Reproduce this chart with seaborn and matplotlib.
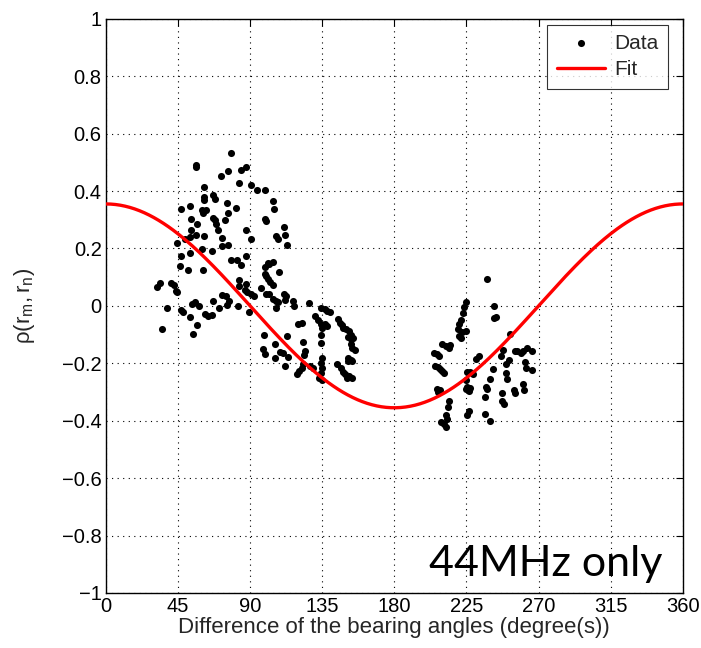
import numpy as np
import pandas as pd
import matplotlib
matplotlib.use('Agg')
import matplotlib.pyplot as plt
import seaborn as sns

# measured points: difference of bearing angles (deg) and correlation rho
angle_a = [78.1, 56.3, 56.3, 87.3, 84.4, 76.2, 71.6, 82.8, 90.4, 94.2, 99.2, 61.3, 61.3, 61.3,
           66.6, 68.0, 47.1, 52.3, 60.3, 62.4, 60.8, 75.3, 76.0, 81.4, 74.3, 66.6, 68.0, 68.5,
           53.4, 57.1, 70.2, 53.4, 49.2, 52.7, 56.1, 61.3, 72.7, 87.5, 90.6, 76.0, 72.7, 44.2,
           104.2, 105.1, 99.4, 100.0, 111.1, 106.2, 107.3, 111.6, 113.1, 47.1, 52.3, 46.5, 51.5,
           60.1, 66.3, 60.8, 78.1, 81.6, 84.1, 87.3, 99.4, 100.9, 102.1, 104.0, 99.0, 99.8,
           101.0, 102.5, 104.6, 108.2, 83.2, 82.8, 87.3, 86.8, 88.3, 90.6, 92.6, 97.0, 100.0,
           101.7, 104.0, 106.0, 107.6, 111.1, 112.6, 111.6, 105.9, 116.8, 117.7, 127.0, 74.7,
           72.7, 76.8, 75.7, 82.6, 66.6, 55.7, 54.0, 58.1, 47.1, 48.4, 38.3, 52.3, 57.1, 54.6,
           35.2, 31.8, 33.5, 40.8, 42.5, 44.0, 44.6, 62.0, 63.7, 66.0, 70.6, 89.2]
rho_a = [0.531, 0.490, 0.482, 0.484, 0.473, 0.469, 0.453, 0.429, 0.420, 0.405, 0.405, 0.414, 0.380,
         0.368, 0.385, 0.373, 0.336, 0.349, 0.335, 0.333, 0.323, 0.358, 0.323, 0.342, 0.300, 0.307,
         0.298, 0.284, 0.303, 0.286, 0.263, 0.263, 0.233, 0.239, 0.247, 0.245, 0.237, 0.265, 0.233,
         0.212, 0.207, 0.218, 0.365, 0.338, 0.303, 0.295, 0.274, 0.245, 0.233, 0.247, 0.211, 0.175,
         0.183, 0.139, 0.125, 0.198, 0.190, 0.125, 0.161, 0.158, 0.144, 0.172, 0.137, 0.149, 0.146,
         0.154, 0.111, 0.103, 0.093, 0.082, 0.074, 0.117, 0.090, 0.070, 0.076, 0.055, 0.047, 0.041,
         0.035, 0.062, 0.041, 0.041, 0.023, 0.018, 0.012, 0.041, 0.033, 0.020, -0.006, 0.018, 0.000,
         0.009, 0.035, 0.037, 0.018, 0.002, 0.000, 0.018, 0.012, 0.006, -0.002, -0.014, -0.021,
         -0.009, -0.039, -0.068, -0.099, -0.082, 0.064, 0.078, 0.079, 0.074, 0.053, 0.047, -0.027,
         -0.036, -0.032, -0.006, -0.021]

angle_b = [98.9, 98.1, 99.1, 105.4, 105.3, 108.8, 110.7, 113.2, 112.1, 113.4, 120.2, 122.3, 123.1,
           124.1, 123.5, 119.4, 120.6, 122.1, 122.8, 130.2, 132.5, 134.0, 135.0, 136.7, 138.2,
           134.2, 136.5, 138.2, 139.6, 134.0, 134.0, 134.6, 134.0, 134.6, 134.0, 132.9, 135.0,
           129.5, 127.4, 145.1, 145.9, 147.2, 148.2, 150.1, 151.7, 152.8, 151.3, 153.0, 154.3,
           152.8, 153.8, 155.5, 151.3, 153.0, 153.8, 150.9, 144.5, 146.6, 148.1, 149.3, 151.8,
           153.5, 150.7]
rho_b = [-0.103, -0.152, -0.167, -0.132, -0.181, -0.160, -0.163, -0.105, -0.208, -0.177, -0.062,
         -0.060, -0.125, -0.158, -0.172, -0.239, -0.228, -0.218, -0.204, -0.036, -0.050, -0.064,
         -0.078, -0.064, -0.070, -0.006, -0.012, -0.018, -0.023, -0.102, -0.128, -0.181, -0.198,
         -0.218, -0.233, -0.251, -0.260, -0.216, -0.210, -0.047, -0.058, -0.067, -0.076, -0.082,
         -0.088, -0.102, -0.109, -0.117, -0.111, -0.134, -0.146, -0.154, -0.181, -0.187, -0.193,
         -0.193, -0.204, -0.218, -0.230, -0.239, -0.245, -0.251, -0.251]

angle_c = [237.7, 224.6, 223.5, 222.9, 221.6, 220.4, 219.5, 222.0, 225.0, 220.4, 221.4, 242.5,
           242.5, 243.6, 252.0, 209.8, 212.3, 214.0, 215.0, 204.5, 206.7, 207.8, 205.6, 207.3,
           208.7, 209.8, 210.8, 206.7, 208.7, 207.3, 214.0, 213.6, 212.3, 213.0, 209.4, 210.8,
           212.3, 225.6, 227.1, 228.8, 230.9, 232.6, 225.0, 225.6, 227.1, 226.3, 224.6, 226.7,
           225.6, 236.8, 239.8, 237.2, 237.8, 236.4, 239.4, 241.5, 247.8, 246.8, 249.9, 251.6,
           249.9, 250.3, 247.5, 247.1, 248.2, 255.2, 256.7, 258.8, 260.5, 263.0, 265.8, 261.6,
           262.2, 265.8, 254.6, 255.2, 260.5, 260.9]
rho_c = [0.092, 0.012, -0.004, -0.025, -0.048, -0.064, -0.079, -0.091, -0.089, -0.106, -0.112,
         0.000, -0.041, -0.039, -0.099, -0.134, -0.141, -0.146, -0.138, -0.165, -0.169, -0.173,
         -0.208, -0.214, -0.219, -0.228, -0.235, -0.289, -0.293, -0.301, -0.333, -0.354, -0.379,
         -0.394, -0.406, -0.412, -0.421, -0.231, -0.229, -0.237, -0.184, -0.176, -0.260, -0.281,
         -0.286, -0.295, -0.289, -0.365, -0.379, -0.377, -0.400, -0.281, -0.289, -0.316, -0.254,
         -0.219, -0.155, -0.176, -0.204, -0.190, -0.235, -0.254, -0.305, -0.330, -0.342, -0.158,
         -0.158, -0.165, -0.158, -0.146, -0.158, -0.196, -0.216, -0.222, -0.293, -0.305, -0.272,
         -0.293]

fit_amplitude = 0.355

x_ticks = [0, 45, 90, 135, 180, 225, 270, 315, 360]
y_ticks = [-1, -0.8, -0.6, -0.4, -0.2, 0, 0.2, 0.4, 0.6, 0.8, 1]
y_tick_labels = ['\u22121', '\u22120.8', '\u22120.6', '\u22120.4', '\u22120.2', '0',
                 '0.2', '0.4', '0.6', '0.8', '1']

df = pd.DataFrame({'angle': angle_a + angle_b + angle_c,
                   'rho': rho_a + rho_b + rho_c})

fit_x = np.linspace(0, 360, 361)
fit_df = pd.DataFrame({'angle': fit_x, 'rho': fit_amplitude * np.cos(np.radians(fit_x))})

sns.set_style('white')
plt.rcParams['font.family'] = ['Liberation Sans', 'DejaVu Sans']
plt.rcParams['mathtext.fontset'] = 'custom'
plt.rcParams['mathtext.rm'] = 'Liberation Sans'
plt.rcParams['mathtext.it'] = 'Liberation Sans'

fig = plt.figure(figsize=(7.01, 6.48), dpi=100)
ax = fig.add_axes([0.151, 0.085, 0.823, 0.886])

sns.scatterplot(data=df, x='angle', y='rho', color='black', s=26, linewidth=0,
                ax=ax, label='Data', zorder=3)
sns.lineplot(data=fit_df, x='angle', y='rho', color='red', linewidth=2.4,
             ax=ax, label='Fit', zorder=4)

ax.set_xlim(0, 360)
ax.set_ylim(-1, 1)
ax.set_xticks(x_ticks)
ax.set_yticks(y_ticks)
ax.set_yticklabels(y_tick_labels)
ax.tick_params(direction='in', top=True, right=True, labelsize=14.5, length=5, pad=3,
               color='black', labelcolor='black')
ax.grid(True, linestyle=(0, (1, 4)), color='black', linewidth=0.8)
for s in ax.spines.values():
    s.set_color('black')
    s.set_linewidth(1)

ax.set_xlabel('Difference of the bearing angles (degree(s))', fontsize=16, labelpad=1)
ax.set_ylabel(r'$\rho(\mathrm{r_m},\mathrm{r_n})$', fontsize=16)
ax.yaxis.set_label_coords(-0.12, 0.5)

leg = ax.legend(loc='upper right', bbox_to_anchor=(0.974, 0.99), borderaxespad=0,
                fontsize=15, frameon=True, fancybox=False, edgecolor='black',
                handlelength=2.3, handletextpad=0.45, labelspacing=0.35, borderpad=0.45)
leg.get_frame().set_linewidth(0.8)

ax.text(0.965, 0.03, '44MHz only', transform=ax.transAxes, ha='right', va='baseline',
        fontsize=31, family=['Lato', 'DejaVu Sans'], color='black')

fig.text(0.555, 1.014, '(a)', ha='center', va='center', fontsize=14)

fig.savefig('out.png', dpi=100)
